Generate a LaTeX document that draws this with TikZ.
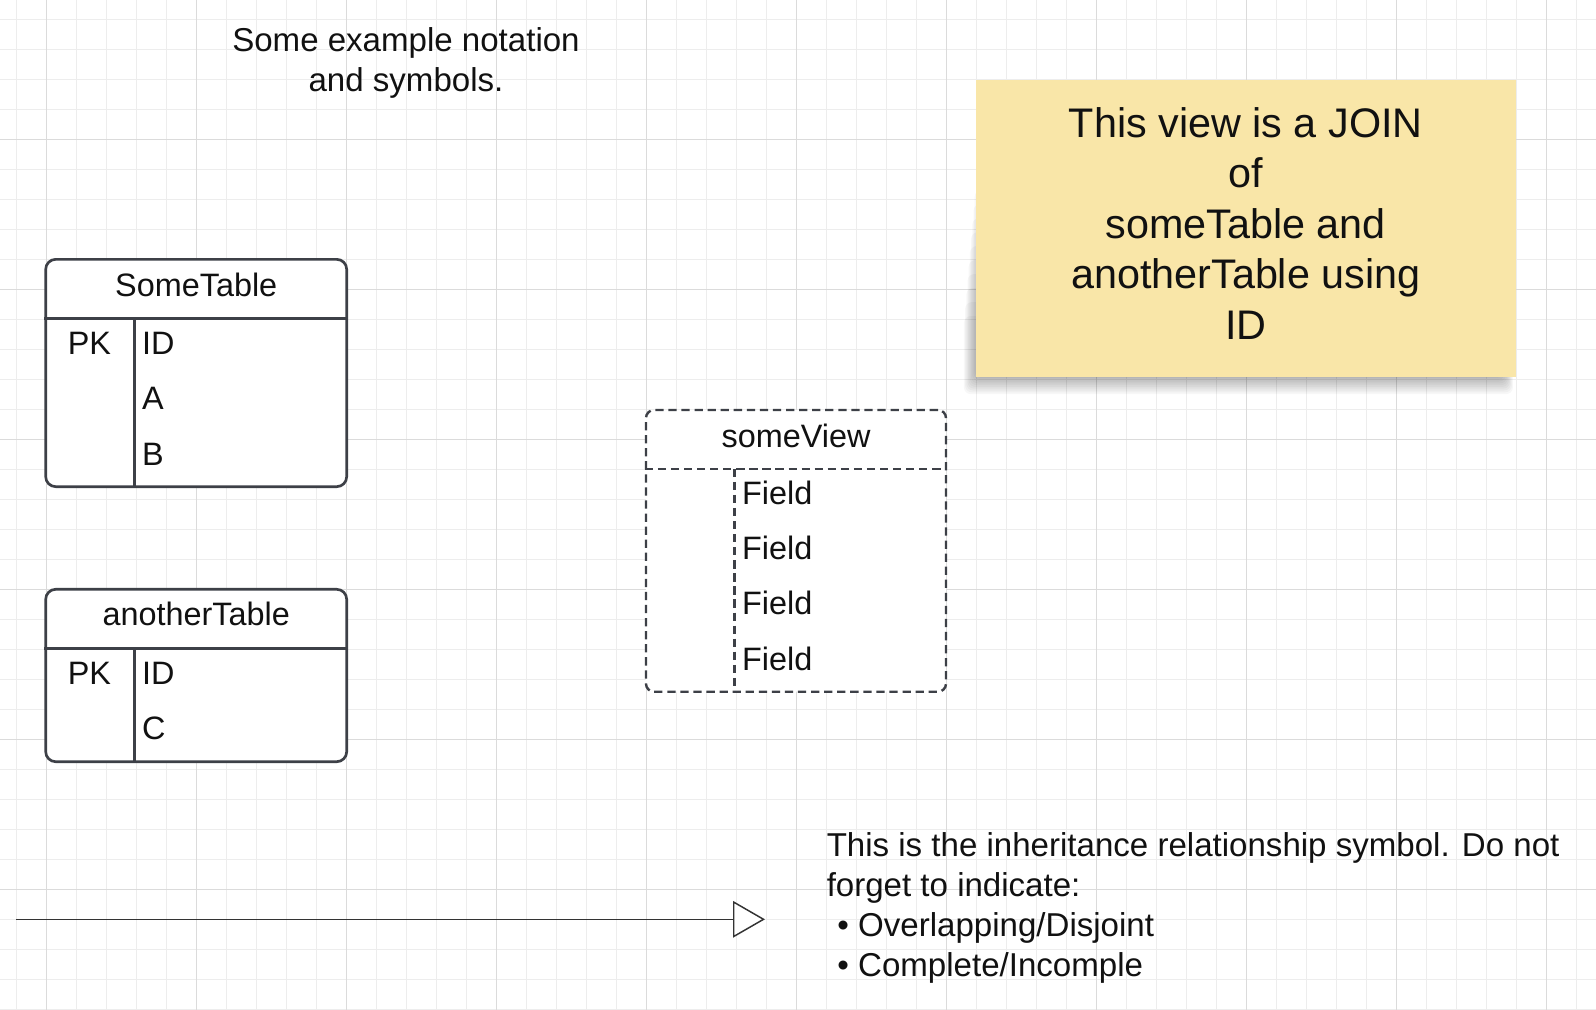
\documentclass[tikz,border=0pt]{standalone}
\usepackage{fontspec}
\setmainfont{Liberation Sans}
\usetikzlibrary{arrows.meta, positioning, calc, backgrounds}
\definecolor{erdLine}{RGB}{61, 64, 71}
\definecolor{erdText}{RGB}{17, 17, 17}
\definecolor{gridMinor}{RGB}{237, 237, 237}
\definecolor{gridMajor}{RGB}{219, 219, 219}
\definecolor{noteFill}{RGB}{249, 230, 168}
\definecolor{arrowLine}{RGB}{51, 51, 51}

\begin{document}
\begin{tikzpicture}[
    x=0.75pt, y=-0.75pt,
    % Canvas Grid
    gridminor/.style={draw=gridMinor, line width=0.75pt},
    gridmajor/.style={draw=gridMajor, line width=0.75pt},
    % Table Entity Box
    tablebox/.style={
        draw=erdLine,
        fill=white,
        rectangle,
        rounded corners=7.5pt,
        line width=2pt,
        minimum width=225.75pt,
        inner sep=0pt
    },
    % View Entity Box
    viewbox/.style={
        tablebox,
        dash pattern=on 6.2pt off 3.6pt,
        line width=1.8pt,
        rounded corners=6pt,
        minimum width=225pt
    },
    tableline/.style={draw=erdLine, line width=2pt},
    viewline/.style={draw=erdLine, line width=1.8pt, dash pattern=on 6.2pt off 3.6pt},
    % Texts
    tabletitle/.style={
        anchor=base,
        inner sep=0pt,
        text=erdText,
        font=\fontsize{24.3}{29}\selectfont
    },
    tabletext/.style={
        inner sep=0pt,
        text=erdText,
        font=\fontsize{24.3}{29}\selectfont
    },
    freetext/.style={
        inner sep=0pt,
        text=erdText,
        font=\fontsize{24.8}{29.8}\selectfont
    },
    % Sticky Note
    stickynote/.style={
        fill=noteFill,
        rectangle,
        minimum width=404.7pt,
        minimum height=222.2pt,
        inner sep=0pt
    },
    notetext/.style={
        align=center,
        inner sep=0pt,
        text=erdText,
        font=\fontsize{31}{37.9}\selectfont
    },
    % Inheritance Connector
    inheritance/.style={
        draw=arrowLine,
        line width=1.1pt,
        -{Triangle[length=24pt, width=27.4pt, fill=white]}
    }
]
    \useasboundingbox (0,0) rectangle (1596,1010);

    % Background Grid
    \begin{scope}[on background layer]
        \fill[white] (0,0) rectangle (1596,1010);
        \foreach \k in {0,...,52}
            \draw[gridminor] ({16.7+30*\k},0) -- ({16.7+30*\k},1010);
        \foreach \k in {0,...,33}
            \draw[gridminor] (0,{19.3+30*\k}) -- (1596,{19.3+30*\k});
        \foreach \k in {0,...,10}
            \draw[gridmajor] ({46.7+150*\k},0) -- ({46.7+150*\k},1010);
        \foreach \k in {0,...,5}
            \draw[gridmajor] (0,{139.3+150*\k}) -- (1596,{139.3+150*\k});
    \end{scope}

    % Caption
    \node (caption) [freetext, align=center, anchor=north] at (406, 27.7) {Some example notation\\and symbols.};

    % Table: SomeTable
    \node (sometable) [tablebox, minimum height=170.5pt] at (196.2, 373) {};
    \node (sometitle) [tabletitle] at ($(sometable.north)+(0,38.6)$) {SomeTable};
    \node (somepk) [tabletext, anchor=base] at ($(sometable.north west)+(45,96.5)$) {PK};
    \node (someid) [tabletext, anchor=base west] at ($(sometable.north west)+(97.5,96.5)$) {ID};
    \node (somea) [tabletext, below=41.6pt of someid.base west, anchor=base west] {A};
    \node (someb) [tabletext, below=41.3pt of somea.base west, anchor=base west] {B};
    \draw [tableline] ($(sometable.north west)+(0,60.7)$) -- ($(sometable.north east)+(0,60.7)$);
    \draw [tableline] ($(sometable.north west)+(90,60.7)$) -- ($(sometable.south west)+(90,0)$);

    % Table: anotherTable
    \node (anothertable) [tablebox, minimum height=129.3pt] at (196.2, 675.5) {};
    \node (anothertitle) [tabletitle] at ($(anothertable.north)+(0,38)$) {anotherTable};
    \node (anotherpk) [tabletext, anchor=base] at ($(anothertable.north west)+(45,96.8)$) {PK};
    \node (anotherid) [tabletext, anchor=base west] at ($(anothertable.north west)+(97.5,96.8)$) {ID};
    \node (anotherc) [tabletext, below=41.25pt of anotherid.base west, anchor=base west] {C};
    \draw [tableline] ($(anothertable.north west)+(0,60.7)$) -- ($(anothertable.north east)+(0,60.7)$);
    \draw [tableline] ($(anothertable.north west)+(90,60.7)$) -- ($(anothertable.south west)+(90,0)$);

    % View: someView
    \node (someview) [viewbox, minimum height=211.3pt] at (796, 550.85) {};
    \node (viewtitle) [tabletitle] at ($(someview.north)+(0,38.5)$) {someView};
    \node (field1) [tabletext, anchor=base west] at ($(someview.north west)+(97,95.5)$) {Field};
    \node (field2) [tabletext, below=41.4pt of field1.base west, anchor=base west] {Field};
    \node (field3) [tabletext, below=41.4pt of field2.base west, anchor=base west] {Field};
    \node (field4) [tabletext, below=41.6pt of field3.base west, anchor=base west] {Field};
    \draw [viewline] ($(someview.north west)+(0,60)$) -- ($(someview.north east)+(0,60)$);
    \draw [viewline] ($(someview.north west)+(89.7,60)$) -- ($(someview.south west)+(89.7,0)$);

    % Sticky Note
    \node (joinnote) [stickynote] at (1245.8, 228.5) {};
    \node (jointext) [notetext, yshift=4pt] at (joinnote.center) {This view is a JOIN\\of\\someTable and\\anotherTable using\\ID};
    \begin{scope}[on background layer]
        \foreach \b in {0,...,9}
            \fill[black, opacity=0.03, rounded corners=5pt]
                ($(joinnote.south west)+(-1-1.2*\b,1+1.8*\b)$) rectangle ($(joinnote.north east)+(-12+\b,110+14*\b)$);
    \end{scope}

    % Inheritance Symbol
    \coordinate (arrowstart) at (16.3, 919.3);
    \coordinate (arrowtip) at (765, 919.3);
    \draw [inheritance] (arrowstart) -- (arrowtip);
    \node (inheritnote) [freetext, align=left, anchor=north west] at (826.5, 832.7) {This is the inheritance relationship symbol. Do not\\forget to indicate:\\\hspace*{8pt}•~Overlapping/Disjoint\\\hspace*{8pt}•~Complete/Incomple};

\end{tikzpicture}
\end{document}
